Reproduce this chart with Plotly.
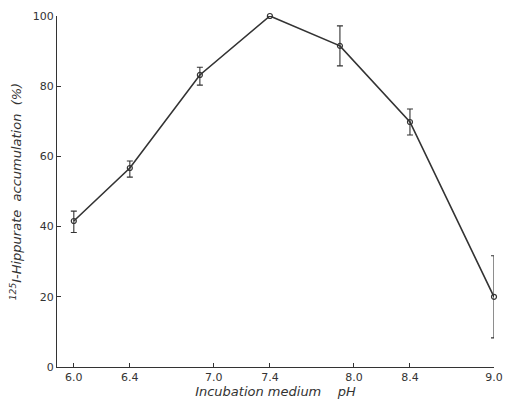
import plotly.graph_objects as go

ph = [6.0, 6.4, 6.9, 7.4, 7.9, 8.4, 9.0]
accumulation = [41.6, 56.7, 83.2, 100.0, 91.5, 69.8, 20.0]
err_plus = [2.8, 2.0, 2.2, 0.0, 5.7, 3.7, 11.7]
err_minus = [3.3, 2.6, 2.9, 0.0, 5.7, 3.7, 11.7]
x_ticks = [6.0, 6.4, 7.0, 7.4, 8.0, 8.4, 9.0]
x_tick_text = ["6.0", "6.4", "7.0", "7.4", "8.0", "8.4", "9.0"]
y_ticks = [0, 20, 40, 60, 80, 100]

ink = "#333333"

fig = go.Figure()
fig.add_trace(go.Scatter(
    x=ph, y=accumulation,
    mode="lines+markers",
    line=dict(color=ink, width=1.6),
    marker=dict(symbol="circle-open", size=5, color=ink, line=dict(width=1.2, color=ink)),
    error_y=dict(type="data", symmetric=False, array=err_plus, arrayminus=err_minus,
                 color=ink, thickness=1.1, width=3),
    cliponaxis=False,
    showlegend=False,
))

# page body has an 8px default margin, so the figure is sized to fit the window
fig.update_layout(
    width=503, height=393,
    margin=dict(l=49, r=17, t=8, b=34),
    paper_bgcolor="white", plot_bgcolor="white",
    font=dict(family="DejaVu Sans, sans-serif", color=ink, size=11),
)
fig.update_xaxes(
    range=[5.88, 9.0], tickvals=x_ticks, ticktext=x_tick_text,
    showgrid=False, zeroline=False, showline=True, linecolor=ink, linewidth=1.3,
    ticks="inside", ticklen=4, tickcolor=ink, tickwidth=1,
    tickfont=dict(size=11), automargin=False,
    title=dict(text="<i>Incubation medium&nbsp;&nbsp;&nbsp;&nbsp;pH</i>",
               font=dict(size=13), standoff=3),
)
fig.update_yaxes(
    range=[0, 100], tickvals=y_ticks,
    showgrid=False, zeroline=False, showline=True, linecolor=ink, linewidth=1.3,
    ticks="inside", ticklen=4, tickcolor=ink, tickwidth=1,
    tickfont=dict(size=11), automargin=False,
    title=dict(text="<i><sup>125</sup>I-Hippurate&nbsp;&nbsp;accumulation&nbsp;&nbsp;(%)</i>",
               font=dict(size=13), standoff=10),
)

fig.write_html("out.html")
